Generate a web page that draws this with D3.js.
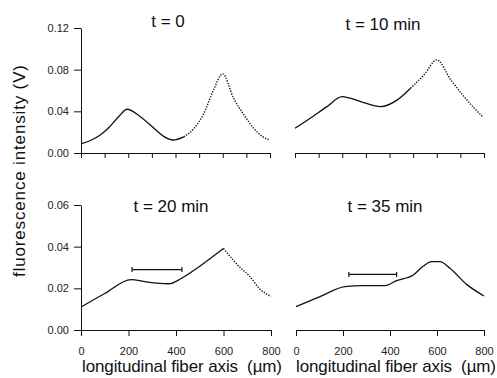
<!DOCTYPE html>
<html>
<head>
<meta charset="utf-8">
<script src="https://cdn.jsdelivr.net/npm/d3@7"></script>
<style>
	body { margin: 0; background: #fff; }
	svg { display: block; font-family: "Liberation Sans", Arial, sans-serif; }
	text { white-space: pre; }
</style>
</head>
<body>
<svg id="chart" width="497" height="378"></svg>
<script>
const titles = ["t = 0", "t = 10 min", "t = 20 min", "t = 35 min"];
const xLabel = "longitudinal fiber axis  (µm)";
const yLabel = "fluorescence intensity (V)";

// profiles: position along fiber (µm) and intensity (V)
const xT0 = [0, 40, 80, 120, 160, 195, 250, 310, 350, 390, 435, 480, 520, 560, 600, 645, 690, 730, 770, 800];
const yT0 = [0.0087, 0.012, 0.017, 0.025, 0.035, 0.042, 0.035, 0.0235, 0.016, 0.0125, 0.0155, 0.024, 0.038, 0.060, 0.076, 0.053, 0.0365, 0.024, 0.0155, 0.0125];

const xT10 = [0, 64, 135, 199, 234, 291, 362, 433, 489, 546, 600, 660, 716, 759, 797];
const yT10 = [0.0237, 0.0333, 0.0445, 0.0541, 0.0526, 0.0484, 0.0445, 0.051, 0.0622, 0.075, 0.0894, 0.070, 0.054, 0.043, 0.0343];

const xT20 = [0, 100, 210, 280, 370, 420, 500, 600, 670, 710, 750, 800];
const yT20 = [0.011, 0.0175, 0.0242, 0.0230, 0.0222, 0.0246, 0.0306, 0.0391, 0.030, 0.0258, 0.0200, 0.0162];

const xT35 = [0, 102, 208, 286, 379, 428, 499, 542, 577, 613, 655, 726, 800];
const yT35 = [0.0112, 0.016, 0.0208, 0.0213, 0.0213, 0.0237, 0.0264, 0.0307, 0.0328, 0.0328, 0.0296, 0.0219, 0.0163];

// horizontal range bars (from, to, level)
const barT20 = [215, 425, 0.029];
const barT35 = [225, 428, 0.0267];

const xTicksTop = [0, 100, 200, 300, 400, 500, 600, 700, 800];
const xTicksBottom = [0, 200, 400, 600, 800];
const yTicksTop = [0, 0.04, 0.08, 0.12];
const yTicksBottom = [0, 0.02, 0.04, 0.06];

const panels = [
	{xs: xT0, ys: yT0, title: titles[0], x0: 81, x1: 270, y0: 153, y1: 28, yMax: 0.12,
		xTicks: xTicksTop, labels: false, yTicks: yTicksTop, dotFrom: 400, tx: 168, ty: 27},
	{xs: xT10, ys: yT10, title: titles[1], x0: 295, x1: 484, y0: 153, y1: 28, yMax: 0.12,
		xTicks: xTicksTop, labels: false, yTicks: null, dotFrom: 480, tx: 383, ty: 30},
	{xs: xT20, ys: yT20, title: titles[2], x0: 81, x1: 271, y0: 330, y1: 205, yMax: 0.06,
		xTicks: xTicksBottom, labels: true, yTicks: yTicksBottom, dotFrom: 600, bar: barT20, tx: 171, ty: 212},
	{xs: xT35, ys: yT35, title: titles[3], x0: 296, x1: 484, y0: 330, y1: 205, yMax: 0.06,
		xTicks: xTicksBottom, labels: true, yTicks: null, dotFrom: 900, bar: barT35, tx: 385, ty: 212}
];

const svg = d3.select("#chart");
const ink = "#111";

panels.forEach(p => {
	const x = d3.scaleLinear().domain([0, 800]).range([p.x0, p.x1]);
	const y = d3.scaleLinear().domain([0, p.yMax]).range([p.y0, p.y1]);
	const g = svg.append("g");

	const xAxis = d3.axisBottom(x)
	.tickValues(p.xTicks)
	.tickSize(p.labels ? 6 : 5)
	.tickSizeOuter(0)
	.tickPadding(11)
	.tickFormat(p.labels ? d3.format("d") : "");

	g.append("g")
	.attr("transform", `translate(0,${p.y0})`)
	.call(xAxis);

	if (p.yTicks) {
		const yAxis = d3.axisLeft(y)
		.tickValues(p.yTicks)
		.tickSize(7)
		.tickSizeOuter(0)
		.tickPadding(5)
		.tickFormat(d3.format(".2f"));

		g.append("g")
		.attr("transform", `translate(${p.x0},0)`)
		.call(yAxis);
	}

	g.selectAll(".domain, .tick line").attr("stroke", ink).attr("stroke-width", 1);
	g.selectAll(".tick text")
	.attr("fill", "#222")
	.attr("font-size", 11)
	.attr("font-family", "Liberation Sans, Arial, sans-serif");

	const pts = p.xs.map((d, i) => [d, p.ys[i]]);
	const line = d3.line()
	.x(d => x(d[0]))
	.y(d => y(d[1]))
	.curve(d3.curveMonotoneX);

	// split where the scanned trace turns dotted; both parts share the boundary point
	let cut = pts.findIndex(d => d[0] >= p.dotFrom);
	if (cut < 0) cut = pts.length - 1;
	const solid = pts.slice(0, cut + 1);
	const dotted = pts.slice(cut);

	g.append("path")
	.datum(solid)
	.attr("fill", "none")
	.attr("stroke", ink)
	.attr("stroke-width", 1.3)
	.attr("stroke-linejoin", "round")
	.attr("d", line);

	if (dotted.length > 1) {
		g.append("path")
		.datum(dotted)
		.attr("fill", "none")
		.attr("stroke", ink)
		.attr("stroke-width", 1.4)
		.attr("stroke-dasharray", "1.3,1.4")
		.attr("d", line);
	}

	if (p.bar) {
		const [b0, b1, bv] = p.bar;
		const bar = g.append("g").attr("stroke", ink).attr("stroke-width", 1.2);
		bar.append("line")
		.attr("x1", x(b0)).attr("x2", x(b1))
		.attr("y1", y(bv)).attr("y2", y(bv));
		[b0, b1].forEach(b => {
			bar.append("line")
			.attr("x1", x(b)).attr("x2", x(b))
			.attr("y1", y(bv) - 2.5).attr("y2", y(bv) + 2.5);
		});
	}

	svg.append("text")
	.attr("x", p.tx)
	.attr("y", p.ty)
	.attr("text-anchor", "middle")
	.attr("font-size", 17)
	.attr("fill", ink)
	.text(p.title);

	if (p.labels) {
		svg.append("text")
		.attr("x", (p.x0 + p.x1) / 2 + 6)
		.attr("y", 372)
		.attr("text-anchor", "middle")
		.attr("font-size", 17)
		.attr("textLength", 200)
		.attr("lengthAdjust", "spacing")
		.attr("fill", ink)
		.text(xLabel);
	}
});

svg.append("text")
.attr("transform", "translate(25,171) rotate(-90)")
.attr("text-anchor", "middle")
.attr("font-size", 17)
.attr("textLength", 212)
.attr("lengthAdjust", "spacing")
.attr("fill", ink)
.text(yLabel);
</script>
</body>
</html>
